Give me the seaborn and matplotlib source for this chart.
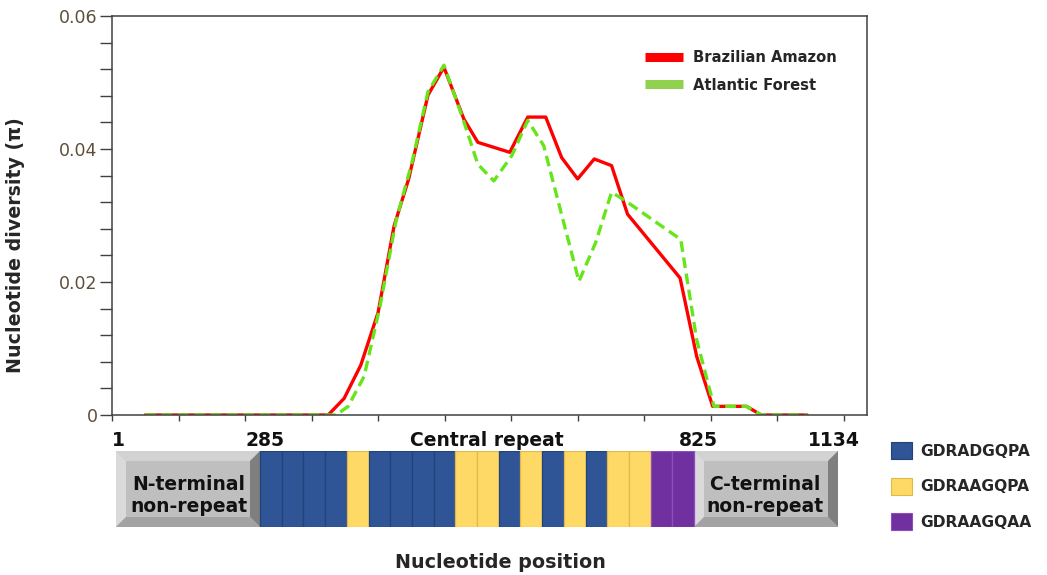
import numpy as np
import pandas as pd
import matplotlib
matplotlib.use("Agg")
import matplotlib.pyplot as plt
import seaborn as sns
from matplotlib.patches import Rectangle, Polygon, Patch
from matplotlib.lines import Line2D
from matplotlib.ticker import MultipleLocator

# ---------------- data ----------------
amazon_pos = [50, 325, 349, 374, 400, 424, 446, 475, 499, 529, 550, 598, 625, 652,
              676, 700, 725, 751, 775, 854, 879, 903, 954, 976, 1045]
amazon_pi = [0, 0, 0.0025, 0.0075, 0.0154, 0.0284, 0.0355, 0.0481, 0.0523, 0.0445,
             0.0410, 0.0395, 0.0448, 0.0448, 0.0387, 0.0355, 0.0385, 0.0375, 0.0302,
             0.0206, 0.0088, 0.0013, 0.0013, 0, 0]
forest_pos = [50, 337, 355, 379, 403, 427, 451, 475, 499, 526, 550, 574, 601, 625,
              649, 702, 727, 751, 772, 855, 879, 905, 954, 976, 1045]
forest_pi = [0, 0, 0.0013, 0.0058, 0.0164, 0.0292, 0.0380, 0.0486, 0.0526, 0.0450,
             0.0377, 0.0352, 0.0390, 0.0443, 0.0405, 0.0201, 0.0259, 0.0335, 0.0322,
             0.0264, 0.0113, 0.0013, 0.0013, 0, 0]
series_names = ["Brazilian Amazon", "Atlantic Forest"]

y_ticks = [0, 0.02, 0.04, 0.06]
y_tick_labels = ["0", "0.02", "0.04", "0.06"]

# schematic of the gene
repeat_units = ["GDRADGQPA"] * 4 + ["GDRAAGQPA"] + ["GDRADGQPA"] * 4 + ["GDRAAGQPA"] * 2 + \
               ["GDRADGQPA", "GDRAAGQPA", "GDRADGQPA", "GDRAAGQPA", "GDRADGQPA"] + \
               ["GDRAAGQPA"] * 2 + ["GDRAAGQAA"] * 2
motif_names = ["GDRADGQPA", "GDRAAGQPA", "GDRAAGQAA"]
motif_colors = ["#2f5597", "#ffd966", "#7030a0"]
motif_edges = ["#22427a", "#e0b94a", "#8b4fbd"]
region_labels = ["1", "285", "Central repeat", "825", "1134"]
domain_texts = ["N-terminal\nnon-repeat", "C-terminal\nnon-repeat"]

# ---------------- style ----------------
sns.set_style("ticks")
plt.rcParams["font.family"] = ["DejaVu Sans"]

W, H = 1047, 575
fig = plt.figure(figsize=(W / 100, H / 100), dpi=100)

def fx(px):
    return px / W

def fy(py):
    return 1 - py / H

ax = fig.add_axes([fx(112), fy(415), fx(867) - fx(112), fy(16) - fy(415)])

df = pd.concat([
    pd.DataFrame({"position": amazon_pos, "pi": amazon_pi, "region": series_names[0]}),
    pd.DataFrame({"position": forest_pos, "pi": forest_pi, "region": series_names[1]}),
])
sns.lineplot(data=df, x="position", y="pi", hue="region", style="region",
             hue_order=series_names, style_order=series_names,
             palette={series_names[0]: "#ff0000", series_names[1]: "#66e61a"},
             dashes={series_names[0]: "", series_names[1]: (3.2, 1.7)},
             linewidth=2.4, estimator=None, sort=False, legend=False, ax=ax)

ax.set_xlim(0, 1135)
ax.set_ylim(0, 0.06)
ax.set_xticks(np.arange(0, 1101, 100))
ax.set_xticklabels([])
ax.set_yticks(y_ticks)
ax.set_yticklabels(y_tick_labels)
ax.yaxis.set_minor_locator(MultipleLocator(0.004))
ax.set_xlabel("")
ax.set_ylabel("Nucleotide diversity (\u03c0)", fontsize=13.7, fontweight="bold")
ax.yaxis.set_label_coords(-0.115, 0.426)
spine_c = "#404040"
for s in ax.spines.values():
    s.set_visible(True)
    s.set_color(spine_c)
    s.set_linewidth(1.1)
ax.tick_params(axis="y", which="both", direction="out", length=8.5, width=1.0,
               color=spine_c, labelsize=12.5, labelcolor="#5e4f3a", pad=2)
ax.tick_params(axis="x", which="both", direction="out", length=4.5, width=1.0,
               color=spine_c)

handles = [Line2D([0], [0], color="#ff0000", lw=6.5, solid_capstyle="butt"),
           Line2D([0], [0], color="#92d050", lw=6.5, solid_capstyle="butt")]
ax.legend(handles, series_names, loc="upper left",
          bbox_to_anchor=((645 - 112) / 755, (415 - 50) / 399),
          frameon=False, borderpad=0, borderaxespad=0, handlelength=2.57,
          handletextpad=0.68, labelspacing=0.85,
          prop={"weight": "bold", "size": 10.6})

# ---------------- schematic ----------------
sx0, sx1, sy_top, sy_bot = 116, 838, 451, 527
sax = fig.add_axes([fx(sx0), fy(sy_bot), fx(sx1) - fx(sx0), fy(sy_top) - fy(sy_bot)])
sax.set_xlim(0, sx1 - sx0)
sax.set_ylim(0, sy_bot - sy_top)
sax.axis("off")

box_w = 144
bev = 10
hgt = sy_bot - sy_top
unit_w = (sx1 - sx0 - 2 * box_w) / len(repeat_units)

def bevel_box(x0, w):
    b = bev
    h = hgt
    sax.add_patch(Rectangle((x0, 0), w, h, facecolor="#bfbfbf", edgecolor="none"))
    sax.add_patch(Polygon([(x0, h), (x0 + w, h), (x0 + w - b, h - b), (x0 + b, h - b)],
                          closed=True, facecolor="#d2d2d2", edgecolor="none"))
    sax.add_patch(Polygon([(x0, 0), (x0, h), (x0 + b, h - b), (x0 + b, b)],
                          closed=True, facecolor="#dadada", edgecolor="none"))
    sax.add_patch(Polygon([(x0 + w, 0), (x0 + w, h), (x0 + w - b, h - b), (x0 + w - b, b)],
                          closed=True, facecolor="#7f7f7f", edgecolor="none"))
    sax.add_patch(Polygon([(x0, 0), (x0 + w, 0), (x0 + w - b, b), (x0 + b, b)],
                          closed=True, facecolor="#a3a3a3", edgecolor="none"))

bevel_box(0, box_w)
c_x0 = box_w + unit_w * len(repeat_units)
bevel_box(c_x0, box_w)
sax.text(box_w / 2 + 1, 31, domain_texts[0], ha="center", va="center",
         fontsize=13.5, fontweight="bold", color="#111111", linespacing=1.2)
sax.text(c_x0 + box_w / 2 - 1, 31, domain_texts[1], ha="center", va="center",
         fontsize=13.5, fontweight="bold", color="#111111", linespacing=1.2)

for i, m in enumerate(repeat_units):
    k = motif_names.index(m)
    sax.add_patch(Rectangle((box_w + i * unit_w, 0), unit_w, hgt,
                            facecolor=motif_colors[k], edgecolor=motif_edges[k],
                            linewidth=0.9))

label_x = [2, box_w + 5, 371, c_x0 + 4, sx1 - sx0 - 4]
for t, x in zip(region_labels, label_x):
    sax.text(x, hgt + 11, t, ha="center", va="center", fontsize=13.5,
             fontweight="bold", color="#111111", clip_on=False)

# motif legend
leg_handles = [Patch(facecolor=c, edgecolor=e, linewidth=0.8)
               for c, e in zip(motif_colors, motif_edges)]
fig.legend(leg_handles, motif_names, loc="upper left",
           bbox_to_anchor=(fx(891), fy(442)), frameon=False, borderpad=0,
           borderaxespad=0, handlelength=1.35, handleheight=1.3,
           handletextpad=0.5, labelspacing=1.2,
           prop={"weight": "bold", "size": 11.2})

fig.text(fx(500), fy(563), "Nucleotide position", ha="center", va="center",
         fontsize=13.8, fontweight="bold")

fig.savefig("out.png", dpi=100)
